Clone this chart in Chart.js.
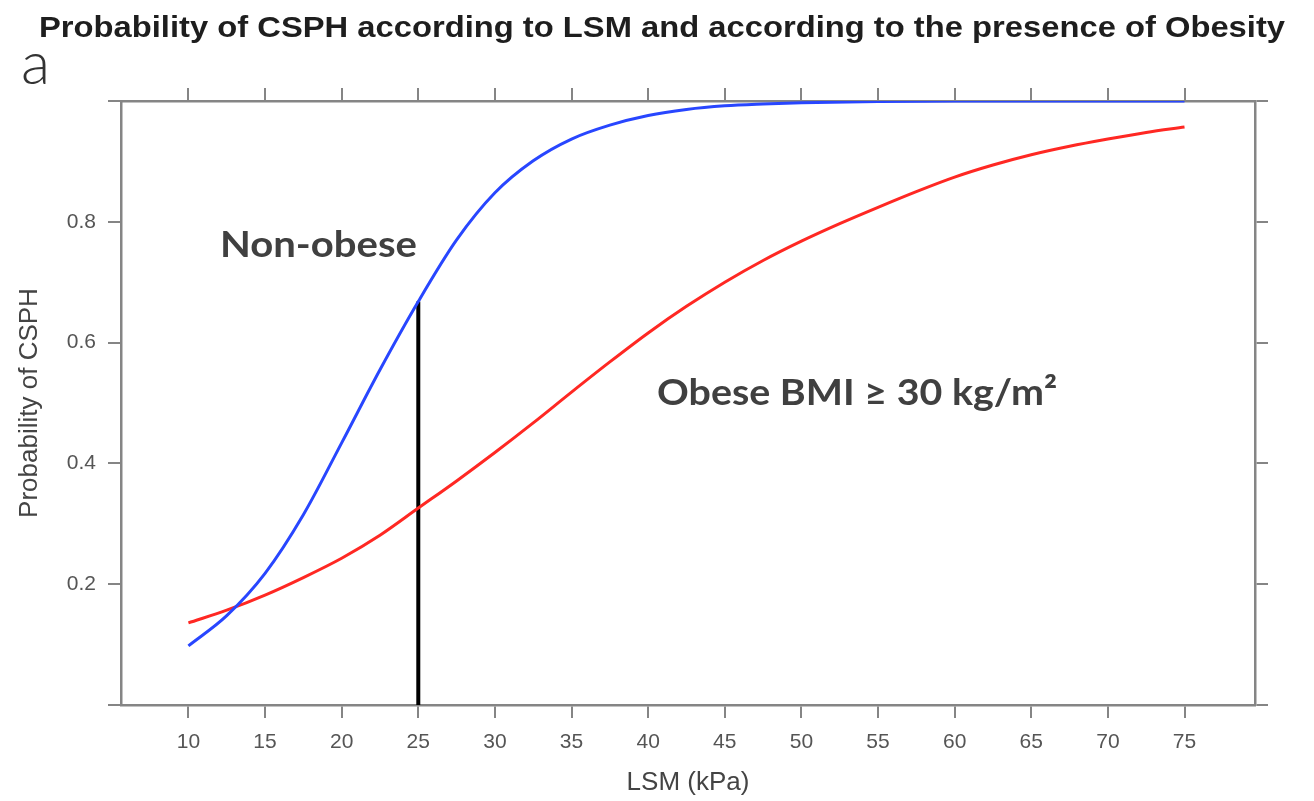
<!DOCTYPE html>
<html>
<head>
<meta charset="utf-8">
<script src="https://cdn.jsdelivr.net/npm/chart.js@4.4.1/dist/chart.umd.min.js"></script>
<style>
  html, body { margin:0; padding:0; background:#fff; }
  #wrap { width:1314px; height:801px; position:relative; }
</style>
</head>
<body>
<div id="wrap"><canvas id="c" width="1314" height="801"></canvas></div>
<script>
// ---- data ----
const lsmNonObese = [10, 12.5, 15, 17.5, 20, 22.5, 25, 27.5, 30, 32.5, 35, 37.5, 40, 42.5, 45, 47.5, 50, 55, 60, 65, 70, 75];
const probNonObese = [0.098, 0.148, 0.218, 0.315, 0.434, 0.555, 0.668, 0.770, 0.848, 0.901, 0.937, 0.960, 0.976, 0.986, 0.992, 0.995, 0.997, 0.999, 1.0, 1.0, 1.0, 1.0];

const lsmObese = [10, 12.5, 15, 17.5, 20, 22.5, 25, 27.5, 30, 32.5, 35, 37.5, 40, 42.5, 45, 47.5, 50, 52.5, 55, 57.5, 60, 62.5, 65, 67.5, 70, 72.5, 75];
const probObese = [0.136, 0.157, 0.182, 0.211, 0.243, 0.281, 0.326, 0.371, 0.418, 0.467, 0.518, 0.568, 0.616, 0.660, 0.700, 0.736, 0.768, 0.797, 0.824, 0.850, 0.874, 0.894, 0.911, 0.925, 0.937, 0.948, 0.957];

const cutoffLsm = [25, 25];
const cutoffProb = [0, 0.668];

const xTicks = [10, 15, 20, 25, 30, 35, 40, 45, 50, 55, 60, 65, 70, 75];
const yTicks = [0, 0.2, 0.4, 0.6, 0.8, 1.0];
const yTickLabels = ['', '0.2', '0.4', '0.6', '0.8', ''];

const titleText = 'Probability of CSPH according to LSM and according to the presence of Obesity';
const panelLetter = 'a';
const xTitle = 'LSM (kPa)';
const yTitle = 'Probability of CSPH';
const nonObeseLabel = 'Non-obese';
const obeseLabel = 'Obese BMI \u2265 30 kg/m\u00B2';

// ---- styling ----
const axisGrey = '#858585';
const labelGrey = '#555555';
const tickFont = { family: '"Liberation Sans", Arial, sans-serif', size: 21 };

function pts(xs, ys) { return xs.map((v, i) => ({ x: v, y: ys[i] })); }

const overlay = {
  id: 'overlay',
  afterDraw(chart) {
    const { ctx, scales: { x, y } } = chart;
    ctx.save();
    // Title
    ctx.font = 'bold 30px "Liberation Sans", Arial, sans-serif';
    ctx.fillStyle = '#1e1e1e';
    ctx.textBaseline = 'alphabetic';
    ctx.textAlign = 'left';
    let w = ctx.measureText(titleText).width;
    ctx.save();
    ctx.translate(39, 37);
    ctx.scale(1246 / w, 1);
    ctx.fillText(titleText, 0, 0);
    ctx.restore();

    // Panel letter
    ctx.font = '300 60px Lato, "Open Sans", sans-serif';
    ctx.fillStyle = '#333333';
    ctx.fillText(panelLetter, 21, 84);

    // Curve labels (placed in data coordinates)
    ctx.font = 'bold 37px Lato, "Open Sans", sans-serif';
    ctx.fillStyle = '#404040';
    const drawLab = (txt, xv, yv, width) => {
      const px = x.getPixelForValue(xv), py = y.getPixelForValue(yv);
      const m = ctx.measureText(txt).width;
      ctx.save();
      ctx.translate(px, py);
      ctx.scale(width / m, 1);
      ctx.fillText(txt, 0, 0);
      ctx.restore();
    };
    drawLab(nonObeseLabel, 12.06, 0.742, 197);
    drawLab(obeseLabel, 40.58, 0.497, 400);
    ctx.restore();
  }
};

const gridOpts = { drawOnChartArea: false, drawTicks: true, tickLength: 13, lineWidth: 2, color: axisGrey };
const borderOpts = { display: true, width: 2.5, color: axisGrey };

new Chart(document.getElementById('c'), {
  type: 'line',
  data: {
    datasets: [
      { label: 'Non-obese', data: pts(lsmNonObese, probNonObese), borderColor: 'rgb(40,70,255)', borderWidth: 3, pointRadius: 0, cubicInterpolationMode: 'monotone', fill: false },
      { label: 'Obese', data: pts(lsmObese, probObese), borderColor: 'rgb(255,40,35)', borderWidth: 3, pointRadius: 0, cubicInterpolationMode: 'monotone', fill: false },
      { label: 'Cutoff', data: pts(cutoffLsm, cutoffProb), borderColor: '#000000', borderWidth: 4, pointRadius: 0, tension: 0, fill: false }
    ]
  },
  options: {
    responsive: false,
    animation: false,
    events: [],
    layout: { padding: { top: 88, right: 46, bottom: 0, left: 0 } },
    plugins: { legend: { display: false }, tooltip: { enabled: false }, title: { display: false } },
    scales: {
      x: {
        type: 'linear', position: 'bottom', min: 5.6, max: 79.6,
        afterBuildTicks: s => { s.ticks = xTicks.map(v => ({ value: v })); },
        afterFit: s => { s.height = 96; },
        ticks: { color: labelGrey, font: tickFont, padding: 12, maxRotation: 0, autoSkip: false, callback: v => String(v) },
        grid: gridOpts, border: borderOpts,
        title: { display: true, text: xTitle, color: '#444444', font: { family: '"Liberation Sans", Arial, sans-serif', size: 26 }, padding: { top: 0, bottom: 3 } }
      },
      x2: {
        type: 'linear', position: 'top', min: 5.6, max: 79.6,
        afterBuildTicks: s => { s.ticks = xTicks.map(v => ({ value: v })); },
        afterFit: s => { s.height = 13; },
        ticks: { display: false },
        grid: gridOpts, border: borderOpts
      },
      y: {
        type: 'linear', position: 'left', min: 0, max: 1,
        afterBuildTicks: s => { s.ticks = yTicks.map(v => ({ value: v })); },
        afterFit: s => { s.width = 121; },
        ticks: { color: labelGrey, font: tickFont, padding: 12, callback: (v, i) => yTickLabels[i] },
        grid: gridOpts, border: borderOpts,
        title: { display: true, text: yTitle, color: '#444444', font: { family: '"Liberation Sans", Arial, sans-serif', size: 26 }, padding: { top: 14, bottom: 0 } }
      },
      y2: {
        type: 'linear', position: 'right', min: 0, max: 1,
        afterBuildTicks: s => { s.ticks = yTicks.map(v => ({ value: v })); },
        afterFit: s => { s.width = 13; },
        ticks: { display: false },
        grid: gridOpts, border: borderOpts
      }
    }
  },
  plugins: [overlay]
});
</script>
</body>
</html>
